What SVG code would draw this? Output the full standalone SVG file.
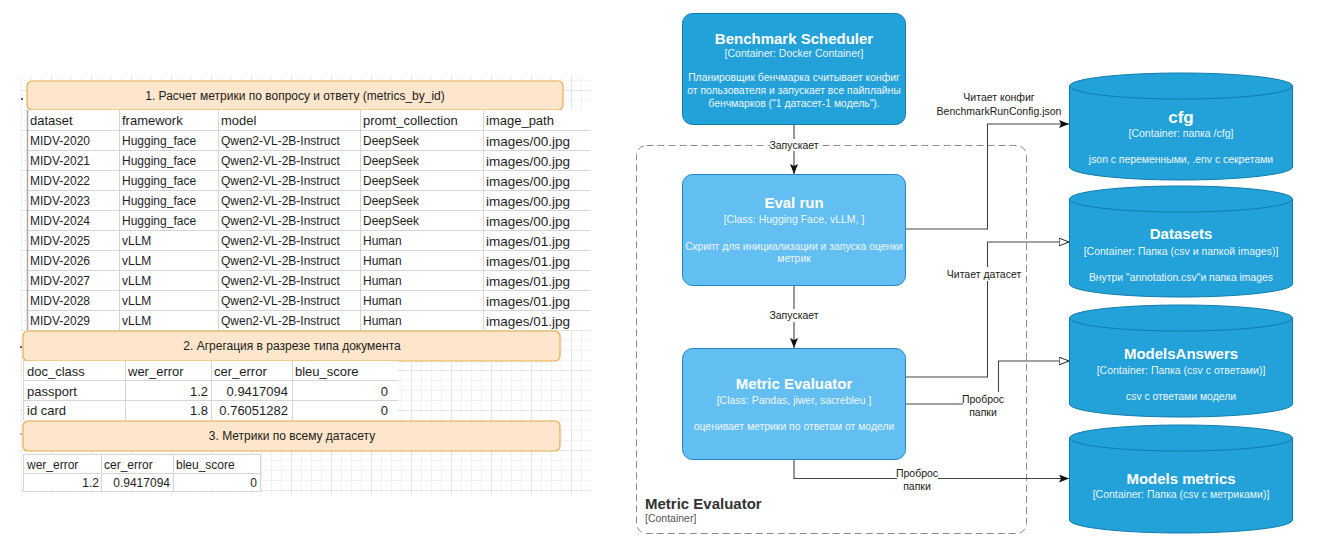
<svg xmlns="http://www.w3.org/2000/svg" width="1324" height="558" viewBox="0 0 1324 558">
<style>
text{font-family:"Liberation Sans",Arial,sans-serif}
.t{fill:#1e1e1e;font-size:12px}
.h{fill:#1e1e1e;font-size:13px}
.ip{fill:#1e1e1e;font-size:13.5px}
.num{fill:#1e1e1e;font-size:13px;text-anchor:end}
.tb3{fill:#1e1e1e;font-size:12px}
.tb3n{fill:#1e1e1e;font-size:12px;text-anchor:end}
.grid{stroke:#d6d6d6;stroke-width:1;fill:none}
.band{fill:#fde6cb;stroke:#e3ad4f;stroke-width:1.2}
.bandt{fill:#222;font-size:12px;text-anchor:middle}
.cont{fill:#23A2D9;stroke:#0E7DAD;stroke-width:1}
.comp{fill:#63BEF2;stroke:#2086C9;stroke-width:1}
.ttl{fill:#fff;font-size:15px;font-weight:bold;text-anchor:middle}
.sub{fill:#fff;fill-opacity:.92;font-size:10.5px;text-anchor:middle}
.dsc{fill:#eef6fb;font-size:10.4px;text-anchor:middle}
.edge{fill:none;stroke:#444;stroke-width:1.1}
.lbl{fill:#1a1a1a;font-size:10.5px;text-anchor:middle}
.lblbg{fill:#fff}
</style>
<defs>
<pattern id="bggrid" x="11" y="10" width="40" height="40" patternUnits="userSpaceOnUse">
<path d="M10.5 0V40M20.5 0V40M30.5 0V40M0 10.5H40M0 20.5H40M0 30.5H40" stroke="#f2f2f2" stroke-width="1" fill="none"/>
<path d="M0.5 0V40M0 0.5H40" stroke="#e4e4e4" stroke-width="1" fill="none"/>
</pattern>
<marker id="arrF" viewBox="0 0 10 8" refX="10" refY="4" markerWidth="10" markerHeight="8" markerUnits="userSpaceOnUse" orient="auto">
<path d="M0 0L10 4L0 8L2 4z" fill="#111"/>
</marker>
<marker id="arrO" viewBox="0 0 11 9" refX="10.5" refY="4.5" markerWidth="11" markerHeight="9" markerUnits="userSpaceOnUse" orient="auto">
<path d="M0.6 0.6L10.4 4.5L0.6 8.4z" fill="#fff" stroke="#222" stroke-width="1"/>
</marker>
</defs>
<rect width="1324" height="558" fill="#fff"/>

<g id="spreadsheet">
<rect x="20" y="75" width="570" height="420" fill="url(#bggrid)"/>
<circle cx="22" cy="99" r="1" fill="#333"/>
<circle cx="21" cy="347" r="1" fill="#333"/>
<circle cx="21" cy="434" r="0.8" fill="#666"/>

<rect class="band" x="27" y="81" width="536" height="29" rx="5"/>
<text class="bandt" x="295" y="99.5">1. Расчет метрики по вопросу и ответу (metrics_by_id)</text>

<rect x="27" y="110" width="563" height="220" fill="#fff"/>
<path class="grid" d="M27 130.5H590M27 150.5H590M27 170.5H590M27 190.5H590M27 210.5H590M27 230.5H590M27 250.5H590M27 270.5H590M27 290.5H590M27 310.5H590M119.5 110V330M218.5 110V330M360.5 110V330M483.5 110V330"/>
<path d="M27.5 110V330" stroke="#a8a8a8" stroke-width="1.5"/>
<text class="h" x="30" y="125">dataset</text>
<text class="h" x="122" y="125">framework</text>
<text class="h" x="221" y="125">model</text>
<text class="h" x="363" y="125">promt_collection</text>
<text class="h" x="486" y="125">image_path</text>

<text class="t" x="30" y="145">MIDV-2020</text><text class="t" x="122" y="145">Hugging_face</text><text class="t" x="221" y="145">Qwen2-VL-2B-Instruct</text><text class="t" x="363" y="145">DeepSeek</text><text class="ip" x="486" y="145.5">images/00.jpg</text>
<text class="t" x="30" y="165">MIDV-2021</text><text class="t" x="122" y="165">Hugging_face</text><text class="t" x="221" y="165">Qwen2-VL-2B-Instruct</text><text class="t" x="363" y="165">DeepSeek</text><text class="ip" x="486" y="165.5">images/00.jpg</text>
<text class="t" x="30" y="185">MIDV-2022</text><text class="t" x="122" y="185">Hugging_face</text><text class="t" x="221" y="185">Qwen2-VL-2B-Instruct</text><text class="t" x="363" y="185">DeepSeek</text><text class="ip" x="486" y="185.5">images/00.jpg</text>
<text class="t" x="30" y="205">MIDV-2023</text><text class="t" x="122" y="205">Hugging_face</text><text class="t" x="221" y="205">Qwen2-VL-2B-Instruct</text><text class="t" x="363" y="205">DeepSeek</text><text class="ip" x="486" y="205.5">images/00.jpg</text>
<text class="t" x="30" y="225">MIDV-2024</text><text class="t" x="122" y="225">Hugging_face</text><text class="t" x="221" y="225">Qwen2-VL-2B-Instruct</text><text class="t" x="363" y="225">DeepSeek</text><text class="ip" x="486" y="225.5">images/00.jpg</text>
<text class="t" x="30" y="245">MIDV-2025</text><text class="t" x="122" y="245">vLLM</text><text class="t" x="221" y="245">Qwen2-VL-2B-Instruct</text><text class="t" x="363" y="245">Human</text><text class="ip" x="486" y="245.5">images/01.jpg</text>
<text class="t" x="30" y="265">MIDV-2026</text><text class="t" x="122" y="265">vLLM</text><text class="t" x="221" y="265">Qwen2-VL-2B-Instruct</text><text class="t" x="363" y="265">Human</text><text class="ip" x="486" y="265.5">images/01.jpg</text>
<text class="t" x="30" y="285">MIDV-2027</text><text class="t" x="122" y="285">vLLM</text><text class="t" x="221" y="285">Qwen2-VL-2B-Instruct</text><text class="t" x="363" y="285">Human</text><text class="ip" x="486" y="285.5">images/01.jpg</text>
<text class="t" x="30" y="305">MIDV-2028</text><text class="t" x="122" y="305">vLLM</text><text class="t" x="221" y="305">Qwen2-VL-2B-Instruct</text><text class="t" x="363" y="305">Human</text><text class="ip" x="486" y="305.5">images/01.jpg</text>
<text class="t" x="30" y="325">MIDV-2029</text><text class="t" x="122" y="325">vLLM</text><text class="t" x="221" y="325">Qwen2-VL-2B-Instruct</text><text class="t" x="363" y="325">Human</text><text class="ip" x="486" y="325.5">images/01.jpg</text>

<rect class="band" x="23" y="331" width="537" height="30" rx="5"/>
<text class="bandt" x="292" y="350">2. Агрегация в разрезе типа документа</text>

<rect x="23" y="361" width="375" height="59" fill="#fff"/>
<path class="grid" d="M23 380.5H398M23 400.5H398M23.5 361V420M125.5 361V420M211.5 361V420M292.5 361V420"/>
<text class="h" x="27" y="376">doc_class</text>
<text class="h" x="128" y="376">wer_error</text>
<text class="h" x="214" y="376">cer_error</text>
<text class="h" x="295" y="376">bleu_score</text>
<text class="h" x="27" y="396">passport</text>
<text class="num" x="208" y="396">1.2</text>
<text class="num" x="288" y="396">0.9417094</text>
<text class="num" x="388" y="396">0</text>
<text class="h" x="27" y="415">id card</text>
<text class="num" x="208" y="415">1.8</text>
<text class="num" x="288" y="415">0.76051282</text>
<text class="num" x="388" y="415">0</text>

<rect class="band" x="23" y="421" width="537" height="30" rx="5"/>
<text class="bandt" x="292" y="440">3. Метрики по всему датасету</text>

<rect x="23" y="454" width="237" height="38" fill="#fff"/>
<path class="grid" d="M23 454.5H260M23 473.5H260M23 491.5H260M23.5 454V492M101.5 454V492M173.5 454V492M260.5 454V492"/>
<text class="tb3" x="27" y="469">wer_error</text>
<text class="tb3" x="104" y="469">cer_error</text>
<text class="tb3" x="176" y="469">bleu_score</text>
<text class="tb3n" x="99" y="487">1.2</text>
<text class="tb3n" x="170" y="487">0.9417094</text>
<text class="tb3n" x="257" y="487">0</text>
</g>

<g id="metric-evaluator-boundary">
<rect x="636.5" y="145.5" width="390" height="388" rx="10" fill="none" stroke="#8a8a8a" stroke-width="1" stroke-dasharray="7 4"/>
<text x="645" y="509" style="font-size:15px;font-weight:bold;fill:#333">Metric Evaluator</text>
<text x="645" y="522" style="font-size:10.5px;fill:#555">[Container]</text>
</g>

<g id="connectors">
<path class="edge" d="M794 125V174" marker-end="url(#arrF)"/>
<rect class="lblbg" x="770" y="139" width="48" height="12"/>
<text class="lbl" x="794" y="149">Запускает</text>

<path class="edge" d="M794 286V348" marker-end="url(#arrF)"/>
<rect class="lblbg" x="769" y="309" width="50" height="13"/>
<text class="lbl" x="794" y="319">Запускает</text>

<path class="edge" d="M906 229H987.5V124H1069" marker-end="url(#arrF)"/>
<text class="lbl" x="999" y="101">Читает конфиг</text>
<text class="lbl" x="999" y="115">BenchmarkRunConfig.json</text>

<path class="edge" d="M906 377H987.5V242H1069" marker-end="url(#arrO)"/>
<rect class="lblbg" x="946" y="267" width="77" height="14"/>
<text class="lbl" x="984" y="278">Читает датасет</text>

<path class="edge" d="M906 404H998.5V361H1069" marker-end="url(#arrO)"/>
<rect class="lblbg" x="963" y="392" width="41" height="26"/>
<text class="lbl" x="983" y="403">Проброс</text>
<text class="lbl" x="983" y="416">папки</text>

<path class="edge" d="M794 460V478.5H1069" marker-end="url(#arrF)"/>
<rect class="lblbg" x="897" y="466" width="41" height="26"/>
<text class="lbl" x="917" y="477">Проброс</text>
<text class="lbl" x="917" y="490">папки</text>
</g>

<g id="benchmark-scheduler">
<rect class="cont" x="682.5" y="13.5" width="223" height="111" rx="10"/>
<text class="ttl" x="794" y="44">Benchmark Scheduler</text>
<text class="sub" x="794" y="57">[Container: Docker Container]</text>
<text class="dsc" x="794" y="81">Планировщик бенчмарка считывает конфиг</text>
<text class="dsc" x="794" y="94">от пользователя и запускает все пайплайны</text>
<text class="dsc" x="794" y="107">бенчмарков ("1 датасет-1 модель").</text>
</g>

<g id="eval-run">
<rect class="comp" x="682.5" y="174.5" width="223" height="111" rx="10"/>
<text class="ttl" x="794" y="208">Eval run</text>
<text class="sub" x="794" y="223">[Class: Hugging Face, vLLM, ]</text>
<text class="dsc" x="794" y="250">Скрипт для инициализации и запуска оценки</text>
<text class="dsc" x="794" y="262">метрик</text>
</g>

<g id="metric-evaluator">
<rect class="comp" x="682.5" y="348.5" width="223" height="111" rx="10"/>
<text class="ttl" x="794" y="389">Metric Evaluator</text>
<text class="sub" x="794" y="404">[Class: Pandas, jiwer, sacrebleu ]</text>
<text class="dsc" x="794" y="430">оценивает метрики по ответам от модели</text>
</g>

<g id="cfg">
<path class="cont" d="M1069.5 86A111.5 13 0 0 1 1292.5 86V167A111.5 13 0 0 1 1069.5 167Z"/>
<path d="M1069.5 86A111.5 13 0 0 0 1292.5 86" fill="none" stroke="#0E7DAD"/>
<text class="ttl" x="1181" y="123" style="font-size:17px">cfg</text>
<text class="sub" x="1181" y="137">[Container: папка /cfg]</text>
<text class="dsc" x="1181" y="163">json с переменными, .env с секретами</text>
</g>

<g id="datasets">
<path class="cont" d="M1069.5 199A111.5 13 0 0 1 1292.5 199V284A111.5 13 0 0 1 1069.5 284Z"/>
<path d="M1069.5 199A111.5 13 0 0 0 1292.5 199" fill="none" stroke="#0E7DAD"/>
<text class="ttl" x="1181" y="239">Datasets</text>
<text class="sub" x="1181" y="255">[Container: Папка (csv и папкой images)]</text>
<text class="dsc" x="1181" y="281">Внутри "annotation.csv"и папка images</text>
</g>

<g id="models-answers">
<path class="cont" d="M1069.5 318A111.5 13 0 0 1 1292.5 318V404A111.5 13 0 0 1 1069.5 404Z"/>
<path d="M1069.5 318A111.5 13 0 0 0 1292.5 318" fill="none" stroke="#0E7DAD"/>
<text class="ttl" x="1181" y="359">ModelsAnswers</text>
<text class="sub" x="1181" y="374">[Container: Папка (csv с ответами)]</text>
<text class="dsc" x="1181" y="400">csv с ответами модели</text>
</g>

<g id="models-metrics">
<path class="cont" d="M1069.5 438A111.5 13 0 0 1 1292.5 438V520A111.5 13 0 0 1 1069.5 520Z"/>
<path d="M1069.5 438A111.5 13 0 0 0 1292.5 438" fill="none" stroke="#0E7DAD"/>
<text class="ttl" x="1181" y="484">Models metrics</text>
<text class="sub" x="1181" y="498">[Container: Папка (csv с метриками)]</text>
</g>
</svg>
